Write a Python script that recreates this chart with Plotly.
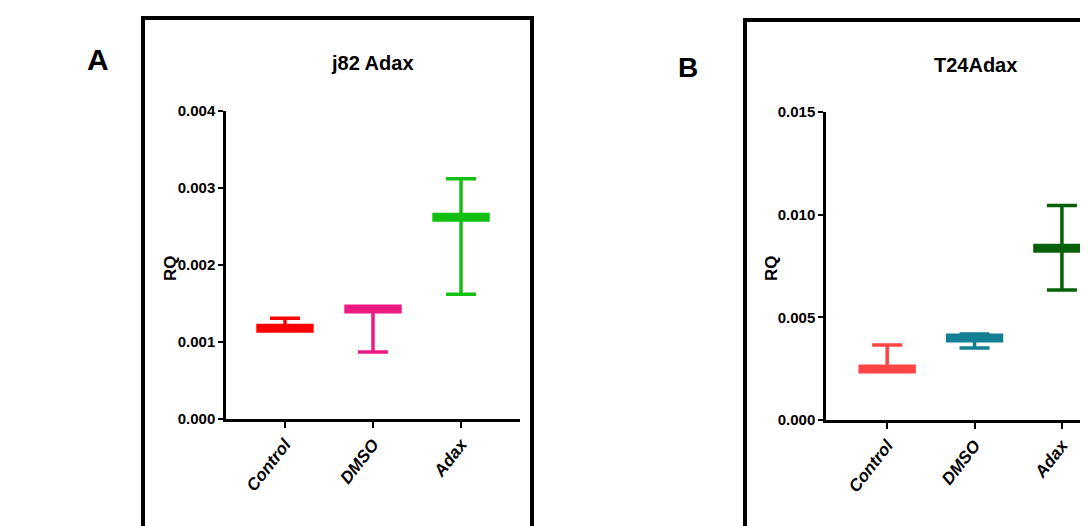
import plotly.graph_objects as go

W, H = 1088, 526
OFF = 8  # page body margin offset

categories = ["Control", "DMSO", "Adax"]

a_title = "j82 Adax"
a_mean = [0.00118, 0.00143, 0.00262]
a_err_plus = [0.00013, 0.0, 0.00050]
a_err_minus = [0.0, 0.00056, 0.00100]
a_colors = ["#ff0000", "#ee1a84", "#12c012"]
a_ticks = [0.0, 0.001, 0.002, 0.003, 0.004]
a_ticklabels = ["0.000", "0.001", "0.002", "0.003", "0.004"]

b_title = "T24Adax"
b_mean = [0.00248, 0.00399, 0.00837]
b_err_plus = [0.00117, 0.00020, 0.00208]
b_err_minus = [0.0, 0.00048, 0.00204]
b_colors = ["#fb4444", "#137f95", "#075f07"]
b_ticks = [0.0, 0.005, 0.010, 0.015]
b_ticklabels = ["0.000", "0.005", "0.010", "0.015"]

FONT = "Liberation Sans, Arial, sans-serif"


def px(x):
    return (x - OFF) / W


def py(y):
    return 1 - (y - OFF) / H


fig = go.Figure()


def add_panel(means, plus, minus, colors, xa, ya):
    for cat, m, p, mi, c in zip(categories, means, plus, minus, colors):
        fig.add_trace(go.Scatter(
            x=[cat], y=[m], mode="markers",
            xaxis=xa, yaxis=ya, showlegend=False, hoverinfo="skip",
            marker=dict(symbol="line-ew", size=41,
                        line=dict(color=c, width=9), color=c),
            error_y=dict(type="data", symmetric=False, array=[p], arrayminus=[mi],
                         color=c, thickness=3.5, width=15),
            cliponaxis=False,
        ))


add_panel(a_mean, a_err_plus, a_err_minus, a_colors, "x", "y")
add_panel(b_mean, b_err_plus, b_err_minus, b_colors, "x2", "y2")

tickfont_y = dict(family=FONT, size=15, color="black", weight="bold")
tickfont_x = dict(family=FONT, size=17, color="black", weight="bold", style="italic")

common_x = dict(type="category", categoryorder="array", categoryarray=categories,
                showline=True, linecolor="black", linewidth=2.5, ticks="outside",
                ticklen=6, tickwidth=2, tickcolor="black", tickangle=-52,
                tickfont=tickfont_x, showgrid=False, zeroline=False, fixedrange=True,
                automargin=False)
common_y = dict(showline=True, linecolor="black", linewidth=2.5, ticks="outside",
                ticklen=5, tickwidth=2, tickcolor="black", tickfont=tickfont_y,
                showgrid=False, zeroline=False, fixedrange=True, automargin=False)


def label(text, x, y, size, angle=0):
    return dict(text=text, x=px(x), y=py(y), xref="paper", yref="paper",
                xanchor="center", yanchor="middle", textangle=angle, showarrow=False,
                font=dict(family=FONT, size=size, color="black", weight="bold"))


fig.update_layout(
    width=W, height=H,
    margin=dict(l=0, r=0, t=0, b=0, pad=0, autoexpand=False),
    paper_bgcolor="white", plot_bgcolor="white",
    xaxis=dict(domain=[px(226), px(520)], range=[-0.67, 2.67], anchor="y", **common_x),
    yaxis=dict(domain=[py(419), py(111)], range=[0, 0.004], anchor="x",
               tickvals=a_ticks, ticktext=a_ticklabels, **common_y),
    xaxis2=dict(domain=[px(826), 1.0], range=[-0.70, 2.39], anchor="y2", **common_x),
    yaxis2=dict(domain=[py(420), py(112)], range=[0, 0.015], anchor="x2",
                tickvals=b_ticks, ticktext=b_ticklabels, **common_y),
    shapes=[
        dict(type="rect", xref="paper", yref="paper",
             x0=px(143), x1=px(532), y0=py(570), y1=py(18),
             line=dict(color="black", width=4)),
        dict(type="rect", xref="paper", yref="paper",
             x0=px(745), x1=px(1140), y0=py(570), y1=py(20),
             line=dict(color="black", width=4)),
    ],
    annotations=[
        label("A", 98, 59, 30),
        label("B", 688, 68, 28),
        label(a_title, 372, 63, 20),
        label(b_title, 975, 65, 20),
        label("RQ", 170, 268, 17, -90),
        label("RQ", 771, 268, 17, -90),
    ],
)

fig.write_html("out.html")
